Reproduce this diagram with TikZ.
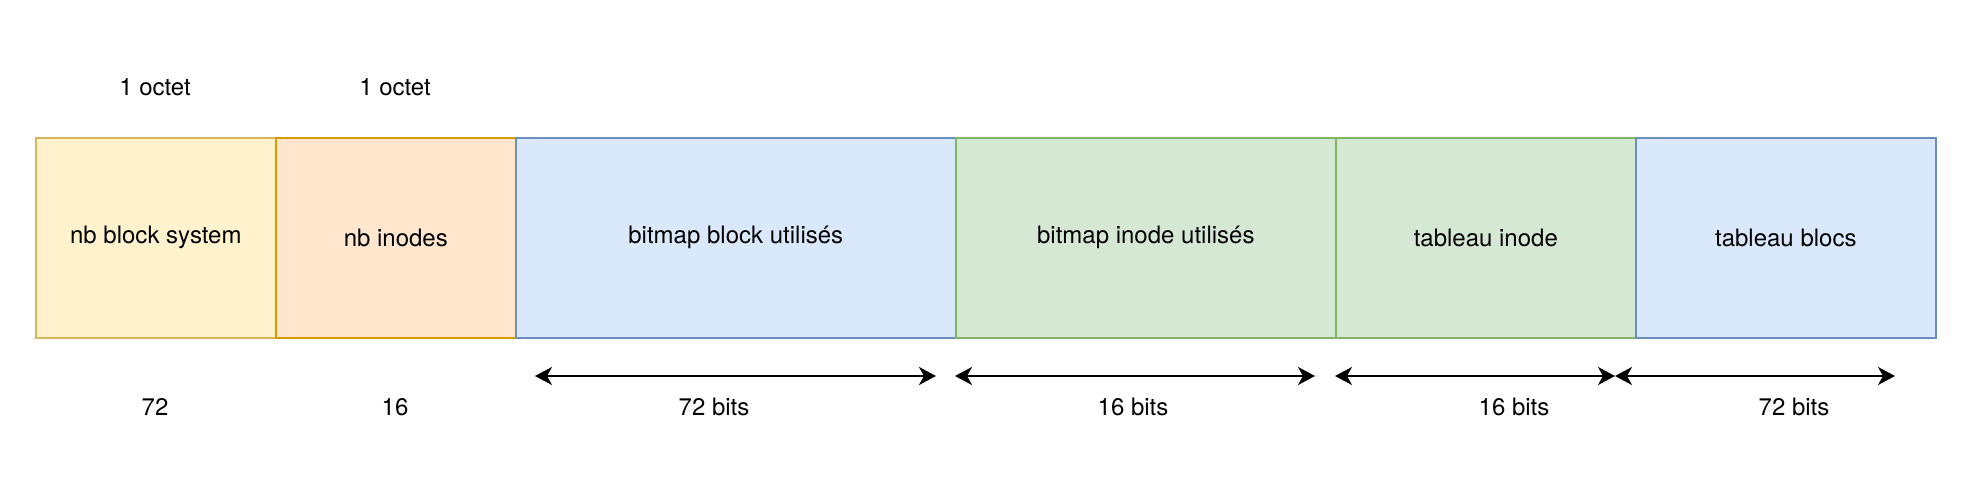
\documentclass[tikz,border=0pt]{standalone}
\usepackage{fontspec}
\setmainfont{TeX Gyre Heros}
\usetikzlibrary{arrows.meta}
\definecolor{yfill}{HTML}{FFF2CC}\definecolor{ydraw}{HTML}{D6B656}
\definecolor{ofill}{HTML}{FFE6CC}\definecolor{odraw}{HTML}{D79B00}
\definecolor{bfill}{HTML}{DAE8FC}\definecolor{bdraw}{HTML}{6C8EBF}
\definecolor{gfill}{HTML}{D5E8D4}\definecolor{gdraw}{HTML}{82B366}
\begin{document}
\begin{tikzpicture}[x=1pt,y=-1pt,
  field/.style={draw=#1draw,fill=#1fill,line width=1.6pt,minimum height=200pt,inner sep=0pt,anchor=north west,font=\fontsize{24}{28}\selectfont},
  lbl/.style={inner sep=0pt,font=\fontsize{24}{28}\selectfont},
  dim/.style={line width=2.2pt,{Stealth[length=17pt,width=18pt,inset=5pt]}-{Stealth[length=17pt,width=18pt,inset=5pt]}}]
\useasboundingbox (0,0) rectangle (1970,502);
\node[field=y,minimum width=240pt] (f1) at (35,137) {nb block system};
\node[field=o,minimum width=240pt] (f2) at (275,137) {nb inodes};
\node[field=b,minimum width=440pt] (f3) at (515,137) {bitmap block utilisés};
\node[field=g,minimum width=380pt] (f4) at (955,137) {bitmap inode utilisés};
\node[field=g,minimum width=300pt] (f5) at (1335,137) {tableau inode};
\node[field=b,minimum width=300pt] (f6) at (1635,137) {tableau blocs};
\node[lbl] (t1) at (155,87) {1 octet};
\node[lbl] (t2) at (395,87) {1 octet};
\node[lbl] (b1) at (155,407) {72};
\node[lbl] (b2) at (395,407) {16};
\coordinate (a1s) at (535,376); \coordinate (a1e) at (936,376);
\coordinate (a2s) at (955,376); \coordinate (a2e) at (1315,376);
\coordinate (a3s) at (1335,376); \coordinate (a3e) at (1615,376);
\coordinate (a4s) at (1615,376); \coordinate (a4e) at (1895,376);
\draw[dim] (a1s) -- (a1e);
\draw[dim] (a2s) -- (a2e);
\draw[dim] (a3s) -- (a3e);
\draw[dim] (a4s) -- (a4e);
\node[lbl] (l1) at (714,407) {72 bits};
\node[lbl] (l2) at (1133,407) {16 bits};
\node[lbl] (l3) at (1514,407) {16 bits};
\node[lbl] (l4) at (1794,407) {72 bits};
\end{tikzpicture}
\end{document}
